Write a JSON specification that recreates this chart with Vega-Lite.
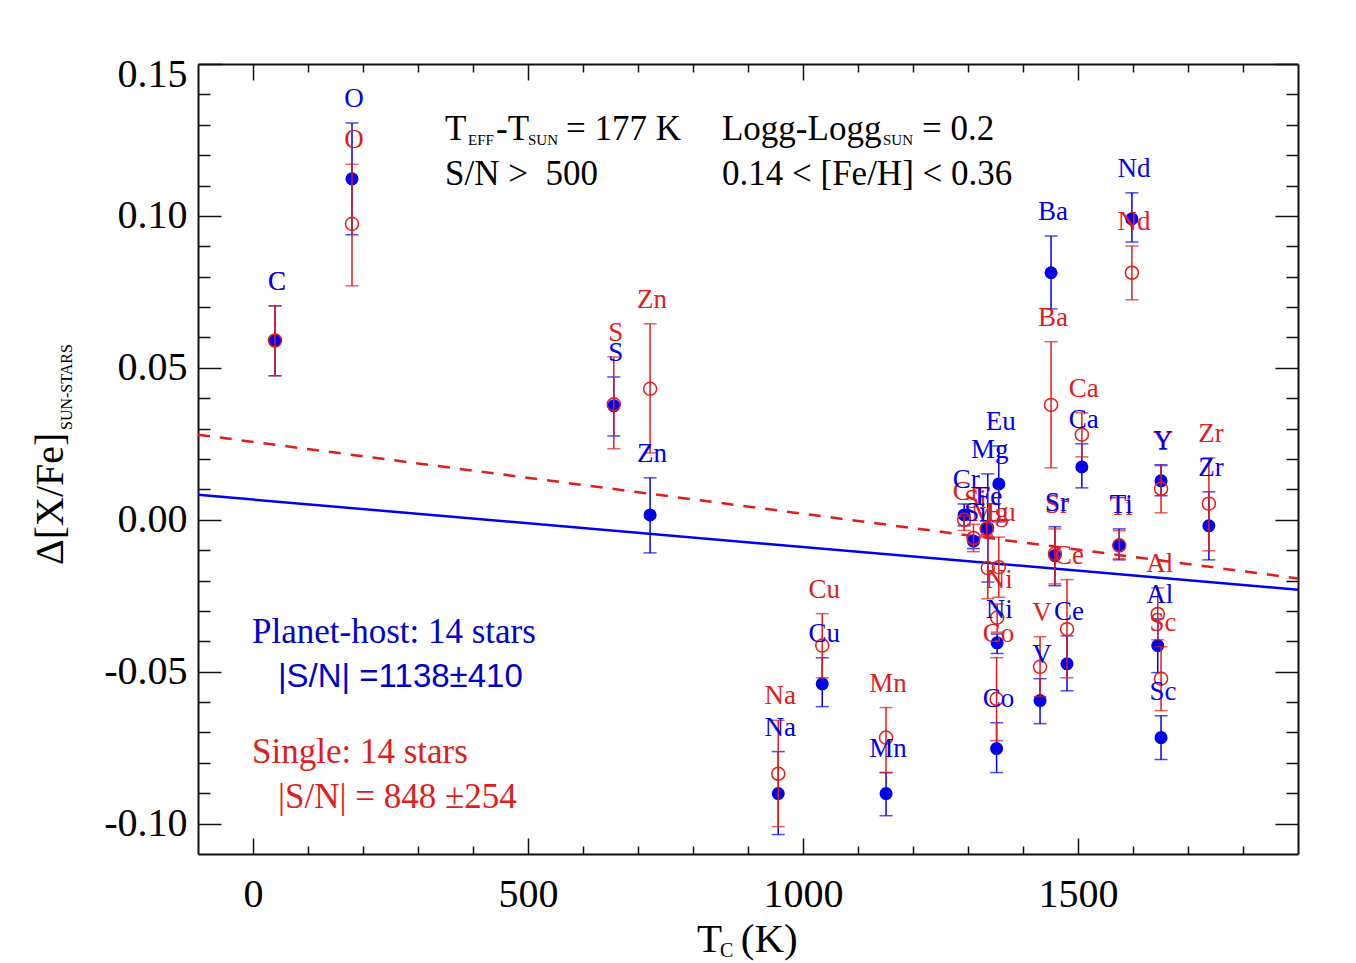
{
  "$schema": "https://vega.github.io/schema/vega-lite/v6.json",
  "width": 1100,
  "height": 790,
  "autosize": {"type": "none"},
  "padding": {"left": 198, "top": 64, "right": 58, "bottom": 109},
  "background": "white",
  "config": {"view": {"stroke": null}, "font": "Liberation Serif", "axis": {"grid": false}},
  "datasets": {
    "elements": [
      {"el": "C", "tc": 40, "ph": 0.0589, "ph_lo": 0.0474, "ph_hi": 0.0704, "sg": 0.059, "sg_lo": 0.0474, "sg_hi": 0.0704},
      {"el": "O", "tc": 180, "ph": 0.1122, "ph_lo": 0.0938, "ph_hi": 0.1306, "sg": 0.0974, "sg_lo": 0.077, "sg_hi": 0.117},
      {"el": "S", "tc": 656, "ph": 0.0375, "ph_lo": 0.0276, "ph_hi": 0.047, "sg": 0.038, "sg_lo": 0.0234, "sg_hi": 0.0536},
      {"el": "Zn", "tc": 722, "ph": 0.0016, "ph_lo": -0.0109, "ph_hi": 0.0138, "sg": 0.0431, "sg_lo": 0.022, "sg_hi": 0.0645},
      {"el": "Na", "tc": 955, "ph": -0.0901, "ph_lo": -0.1036, "ph_hi": -0.0763, "sg": -0.0836, "sg_lo": -0.101, "sg_hi": -0.066},
      {"el": "Cu", "tc": 1035, "ph": -0.054, "ph_lo": -0.0615, "ph_hi": -0.0454, "sg": -0.0414, "sg_lo": -0.052, "sg_hi": -0.0309},
      {"el": "Mn", "tc": 1151, "ph": -0.0901, "ph_lo": -0.0974, "ph_hi": -0.0832, "sg": -0.0717, "sg_lo": -0.0832, "sg_hi": -0.0618},
      {"el": "Cr", "tc": 1293, "ph": 0.0016, "ph_lo": -0.002, "ph_hi": 0.0052, "sg": 0.0, "sg_lo": -0.0035, "sg_hi": 0.0012},
      {"el": "Si", "tc": 1310, "ph": -0.007, "ph_lo": -0.0095, "ph_hi": -0.0057, "sg": -0.006, "sg_lo": -0.0105, "sg_hi": -0.0015},
      {"el": "Fe", "tc": 1334, "ph": -0.0027, "ph_lo": -0.005, "ph_hi": -0.0004, "sg": -0.003, "sg_lo": -0.0055, "sg_hi": -0.0004},
      {"el": "Mg", "tc": 1336, "ph": -0.0027, "ph_lo": -0.0205, "ph_hi": 0.0151, "sg": -0.0159, "sg_lo": -0.026, "sg_hi": -0.0057},
      {"el": "Co", "tc": 1352, "ph": -0.0753, "ph_lo": -0.0832, "ph_hi": -0.0668, "sg": -0.059, "sg_lo": -0.0727, "sg_hi": -0.0454},
      {"el": "Ni", "tc": 1353, "ph": -0.0405, "ph_lo": -0.044, "ph_hi": -0.0376, "sg": -0.0322, "sg_lo": -0.037, "sg_hi": -0.0277},
      {"el": "Eu", "tc": 1356, "ph": 0.0118, "ph_lo": -0.0007, "ph_hi": 0.0243, "sg": -0.0156, "sg_lo": -0.0255, "sg_hi": -0.0057},
      {"el": "V", "tc": 1431, "ph": -0.0595, "ph_lo": -0.0671, "ph_hi": -0.0523, "sg": -0.0484, "sg_lo": -0.0582, "sg_hi": -0.0385},
      {"el": "Ba", "tc": 1451, "ph": 0.0813, "ph_lo": 0.0694, "ph_hi": 0.0934, "sg": 0.0378, "sg_lo": 0.0171, "sg_hi": 0.0586},
      {"el": "Sr", "tc": 1458, "ph": -0.0118, "ph_lo": -0.0217, "ph_hi": -0.0023, "sg": -0.0112, "sg_lo": -0.0211, "sg_hi": -0.003},
      {"el": "Ce", "tc": 1480, "ph": -0.0474, "ph_lo": -0.0563, "ph_hi": -0.0382, "sg": -0.036, "sg_lo": -0.052, "sg_hi": -0.0197},
      {"el": "Ca", "tc": 1507, "ph": 0.0174, "ph_lo": 0.0105, "ph_hi": 0.025, "sg": 0.028, "sg_lo": 0.0207, "sg_hi": 0.0352},
      {"el": "Ti", "tc": 1575, "ph": -0.0082, "ph_lo": -0.0132, "ph_hi": -0.003, "sg": -0.0085, "sg_lo": -0.0128, "sg_hi": -0.0036},
      {"el": "Nd", "tc": 1598, "ph": 0.099, "ph_lo": 0.0914, "ph_hi": 0.1076, "sg": 0.0813, "sg_lo": 0.0724, "sg_hi": 0.0901},
      {"el": "Al", "tc": 1645, "ph": -0.0414, "ph_lo": -0.0503, "ph_hi": -0.0326, "sg": -0.031, "sg_lo": -0.0395, "sg_hi": -0.0224},
      {"el": "Y", "tc": 1651, "ph": 0.0128, "ph_lo": 0.0079, "ph_hi": 0.0181, "sg": 0.0102, "sg_lo": 0.0023, "sg_hi": 0.0178},
      {"el": "Sc", "tc": 1651, "ph": -0.0717, "ph_lo": -0.0789, "ph_hi": -0.0645, "sg": -0.0523, "sg_lo": -0.0628, "sg_hi": -0.0418},
      {"el": "Zr", "tc": 1738, "ph": -0.002, "ph_lo": -0.0132, "ph_hi": 0.0092, "sg": 0.0053, "sg_lo": -0.0102, "sg_hi": 0.0204}
    ],
    "fit_ph": [{"tc": -100, "v": 0.0082}, {"tc": 1900, "v": -0.023}],
    "fit_sg": [{"tc": -100, "v": 0.028}, {"tc": 1900, "v": -0.0193}],
    "notes": [
      {"t": "T", "tc": 349.1, "v": 0.125},
      {"t": "-T", "tc": 441.8, "v": 0.125},
      {"t": "= 177 K", "tc": 569.1, "v": 0.125},
      {"t": "Logg-Logg", "tc": 852.7, "v": 0.125},
      {"t": "= 0.2", "tc": 1216.4, "v": 0.125},
      {"t": "S/N > \u00a0500", "tc": 349.1, "v": 0.1102},
      {"t": "0.14 < [Fe/H] < 0.36", "tc": 852.7, "v": 0.1102}
    ],
    "subs": [
      {"t": "EFF", "tc": 390.9, "v": 0.1234},
      {"t": "SUN", "tc": 500, "v": 0.1234},
      {"t": "SUN", "tc": 1145.5, "v": 0.1234}
    ],
    "host_notes": [
      {"t": "Planet-host: 14 stars", "tc": -1.8, "v": -0.04055}
    ],
    "host_sn": [
      {"t": "|S/N| =1138\u00b1410", "tc": 45.5, "v": -0.05503}
    ],
    "single_notes": [
      {"t": "Single: 14 stars", "tc": -1.8, "v": -0.07997},
      {"t": "|S/N| = 848 \u00b1254", "tc": 45.5, "v": -0.09479}
    ],
    "xtitle": [
      {"t": "T", "tc": 807.3, "v": -0.1422},
      {"t": "(K)", "tc": 887, "v": -0.1422}
    ],
    "xtitle_sub": [{"t": "C", "tc": 849, "v": -0.1439}],
    "ytitle": [{"t": "\u0394[X/Fe]", "tc": -345.5, "v": -0.0149}],
    "ytitle_sub": [{"t": "SUN-STARS", "tc": -329.1, "v": 0.02955}]
  },
  "resolve": {"axis": {"x": "independent", "y": "independent"}},
  "layer": [
    {
      "data": {"name": "fit_ph"},
      "mark": {"type": "line", "color": "#0000ee", "strokeWidth": 2.5},
      "encoding": {
        "x": {"field": "tc", "type": "quantitative", "scale": {"domain": [-100, 1900], "nice": false, "zero": false},
          "axis": {"orient": "bottom", "values": [0, 500, 1000, 1500], "format": "d", "tickSize": -16, "tickWidth": 1.5, "tickColor": "#111", "domainColor": "#111", "domainWidth": 2, "labelFont": "Liberation Serif", "labelFontSize": 40, "labelColor": "black", "labelPadding": 36, "labelFlush": false, "title": null}},
        "y": {"field": "v", "type": "quantitative", "scale": {"domain": [-0.11, 0.15], "nice": false, "zero": false},
          "axis": {"orient": "left", "values": [-0.1, -0.05, 0, 0.05, 0.1, 0.15], "labelExpr": "replace(format(datum.value, '.2f'), '\u2212', '-')", "tickSize": -23, "tickWidth": 1.5, "tickColor": "#111", "domainColor": "#111", "domainWidth": 2, "labelFont": "Liberation Serif", "labelFontSize": 40, "labelColor": "black", "labelPadding": 34, "labelFlush": true, "labelFlushOffset": 10, "title": null}}
      }
    },
    {
      "data": {"name": "fit_sg"},
      "mark": {"type": "line", "color": "#e01c1c", "strokeWidth": 2.5, "strokeDash": [12, 10]},
      "encoding": {
        "x": {"field": "tc", "type": "quantitative", "scale": {"domain": [-100, 1900], "nice": false, "zero": false},
          "axis": {"orient": "bottom", "values": [100, 200, 300, 400, 600, 700, 800, 900, 1100, 1200, 1300, 1400, 1600, 1700, 1800], "tickSize": -8, "tickWidth": 1.5, "tickColor": "#111", "labels": false, "domain": false, "title": null}},
        "y": {"field": "v", "type": "quantitative", "scale": {"domain": [-0.11, 0.15], "nice": false, "zero": false},
          "axis": {"orient": "left", "values": [-0.09, -0.08, -0.07, -0.06, -0.04, -0.03, -0.02, -0.01, 0.01, 0.02, 0.03, 0.04, 0.06, 0.07, 0.08, 0.09, 0.11, 0.12, 0.13, 0.14], "tickSize": -12, "tickWidth": 1.5, "tickColor": "#111", "labels": false, "domain": false, "title": null}}
      }
    },
    {
      "data": {"name": "elements"},
      "mark": {"type": "errorbar", "color": "#0000ee", "thickness": 1.5, "ticks": {"size": 13, "thickness": 1.5}},
      "encoding": {
        "x": {"field": "tc", "type": "quantitative", "scale": {"domain": [-100, 1900], "nice": false, "zero": false},
          "axis": {"orient": "top", "values": [0, 500, 1000, 1500], "tickSize": -16, "tickWidth": 1.5, "tickColor": "#111", "domainColor": "#111", "domainWidth": 2, "labels": false, "title": null}},
        "y": {"field": "ph_lo", "type": "quantitative", "scale": {"domain": [-0.11, 0.15], "nice": false, "zero": false},
          "axis": {"orient": "right", "values": [-0.1, -0.05, 0, 0.05, 0.1, 0.15], "tickSize": -23, "tickWidth": 1.5, "tickColor": "#111", "domainColor": "#111", "domainWidth": 2, "labels": false, "title": null}},
        "y2": {"field": "ph_hi"}
      }
    },
    {
      "data": {"name": "elements"},
      "mark": {"type": "point", "shape": "circle", "filled": true, "color": "#0000ee", "size": 170, "opacity": 1},
      "encoding": {
        "x": {"field": "tc", "type": "quantitative", "scale": {"domain": [-100, 1900], "nice": false, "zero": false},
          "axis": {"orient": "top", "values": [100, 200, 300, 400, 600, 700, 800, 900, 1100, 1200, 1300, 1400, 1600, 1700, 1800], "tickSize": -8, "tickWidth": 1.5, "tickColor": "#111", "labels": false, "domain": false, "title": null}},
        "y": {"field": "ph", "type": "quantitative", "scale": {"domain": [-0.11, 0.15], "nice": false, "zero": false},
          "axis": {"orient": "right", "values": [-0.09, -0.08, -0.07, -0.06, -0.04, -0.03, -0.02, -0.01, 0.01, 0.02, 0.03, 0.04, 0.06, 0.07, 0.08, 0.09, 0.11, 0.12, 0.13, 0.14], "tickSize": -12, "tickWidth": 1.5, "tickColor": "#111", "labels": false, "domain": false, "title": null}}
      }
    },
    {
      "data": {"name": "elements"},
      "mark": {"type": "errorbar", "color": "#e01c1c", "thickness": 1.5, "ticks": {"size": 13, "thickness": 1.5}},
      "encoding": {
        "x": {"field": "tc", "type": "quantitative", "axis": null},
        "y": {"field": "sg_lo", "type": "quantitative", "axis": null},
        "y2": {"field": "sg_hi"}
      }
    },
    {
      "data": {"name": "elements"},
      "mark": {"type": "point", "shape": "circle", "filled": false, "color": "#e01c1c", "strokeWidth": 1.5, "size": 170, "opacity": 1},
      "encoding": {
        "x": {"field": "tc", "type": "quantitative", "axis": null},
        "y": {"field": "sg", "type": "quantitative", "axis": null}
      }
    },
    {
      "data": {"name": "elements"},
      "mark": {"type": "text", "color": "#e01c1c", "font": "Liberation Serif", "fontSize": 27, "baseline": "middle", "align": "center", "dy": -24, "dx": 2},
      "encoding": {
        "x": {"field": "tc", "type": "quantitative", "axis": null},
        "y": {"field": "sg_hi", "type": "quantitative", "axis": null},
        "text": {"field": "el"}
      }
    },
    {
      "data": {"name": "elements"},
      "mark": {"type": "text", "color": "#0000ee", "font": "Liberation Serif", "fontSize": 27, "baseline": "middle", "align": "center", "dy": -24, "dx": 2},
      "encoding": {
        "x": {"field": "tc", "type": "quantitative", "axis": null},
        "y": {"field": "ph_hi", "type": "quantitative", "axis": null},
        "text": {"field": "el"}
      }
    },
    {
      "data": {"name": "notes"},
      "mark": {"type": "text", "color": "black", "font": "Liberation Serif", "fontSize": 35, "baseline": "alphabetic", "align": "left"},
      "encoding": {
        "x": {"field": "tc", "type": "quantitative", "axis": null},
        "y": {"field": "v", "type": "quantitative", "axis": null},
        "text": {"field": "t"}
      }
    },
    {
      "data": {"name": "subs"},
      "mark": {"type": "text", "color": "black", "font": "Liberation Serif", "fontSize": 15, "baseline": "alphabetic", "align": "left"},
      "encoding": {
        "x": {"field": "tc", "type": "quantitative", "axis": null},
        "y": {"field": "v", "type": "quantitative", "axis": null},
        "text": {"field": "t"}
      }
    },
    {
      "data": {"name": "host_notes"},
      "mark": {"type": "text", "color": "#0000cc", "font": "Liberation Serif", "fontSize": 35, "baseline": "alphabetic", "align": "left"},
      "encoding": {
        "x": {"field": "tc", "type": "quantitative", "axis": null},
        "y": {"field": "v", "type": "quantitative", "axis": null},
        "text": {"field": "t"}
      }
    },
    {
      "data": {"name": "host_sn"},
      "mark": {"type": "text", "color": "#0000cc", "font": "Liberation Sans", "fontSize": 33, "baseline": "alphabetic", "align": "left"},
      "encoding": {
        "x": {"field": "tc", "type": "quantitative", "axis": null},
        "y": {"field": "v", "type": "quantitative", "axis": null},
        "text": {"field": "t"}
      }
    },
    {
      "data": {"name": "single_notes"},
      "mark": {"type": "text", "color": "#e01c1c", "font": "Liberation Serif", "fontSize": 35, "baseline": "alphabetic", "align": "left"},
      "encoding": {
        "x": {"field": "tc", "type": "quantitative", "axis": null},
        "y": {"field": "v", "type": "quantitative", "axis": null},
        "text": {"field": "t"}
      }
    },
    {
      "data": {"name": "xtitle"},
      "mark": {"type": "text", "color": "black", "font": "Liberation Serif", "fontSize": 41, "baseline": "alphabetic", "align": "left"},
      "encoding": {
        "x": {"field": "tc", "type": "quantitative", "axis": null},
        "y": {"field": "v", "type": "quantitative", "axis": null},
        "text": {"field": "t"}
      }
    },
    {
      "data": {"name": "xtitle_sub"},
      "mark": {"type": "text", "color": "black", "font": "Liberation Serif", "fontSize": 20, "baseline": "alphabetic", "align": "left"},
      "encoding": {
        "x": {"field": "tc", "type": "quantitative", "axis": null},
        "y": {"field": "v", "type": "quantitative", "axis": null},
        "text": {"field": "t"}
      }
    },
    {
      "data": {"name": "ytitle"},
      "mark": {"type": "text", "color": "black", "font": "Liberation Serif", "fontSize": 40, "baseline": "alphabetic", "align": "left", "angle": 270},
      "encoding": {
        "x": {"field": "tc", "type": "quantitative", "axis": null},
        "y": {"field": "v", "type": "quantitative", "axis": null},
        "text": {"field": "t"}
      }
    },
    {
      "data": {"name": "ytitle_sub"},
      "mark": {"type": "text", "color": "black", "font": "Liberation Serif", "fontSize": 16, "baseline": "alphabetic", "align": "left", "angle": 270},
      "encoding": {
        "x": {"field": "tc", "type": "quantitative", "axis": null},
        "y": {"field": "v", "type": "quantitative", "axis": null},
        "text": {"field": "t"}
      }
    }
  ]
}
